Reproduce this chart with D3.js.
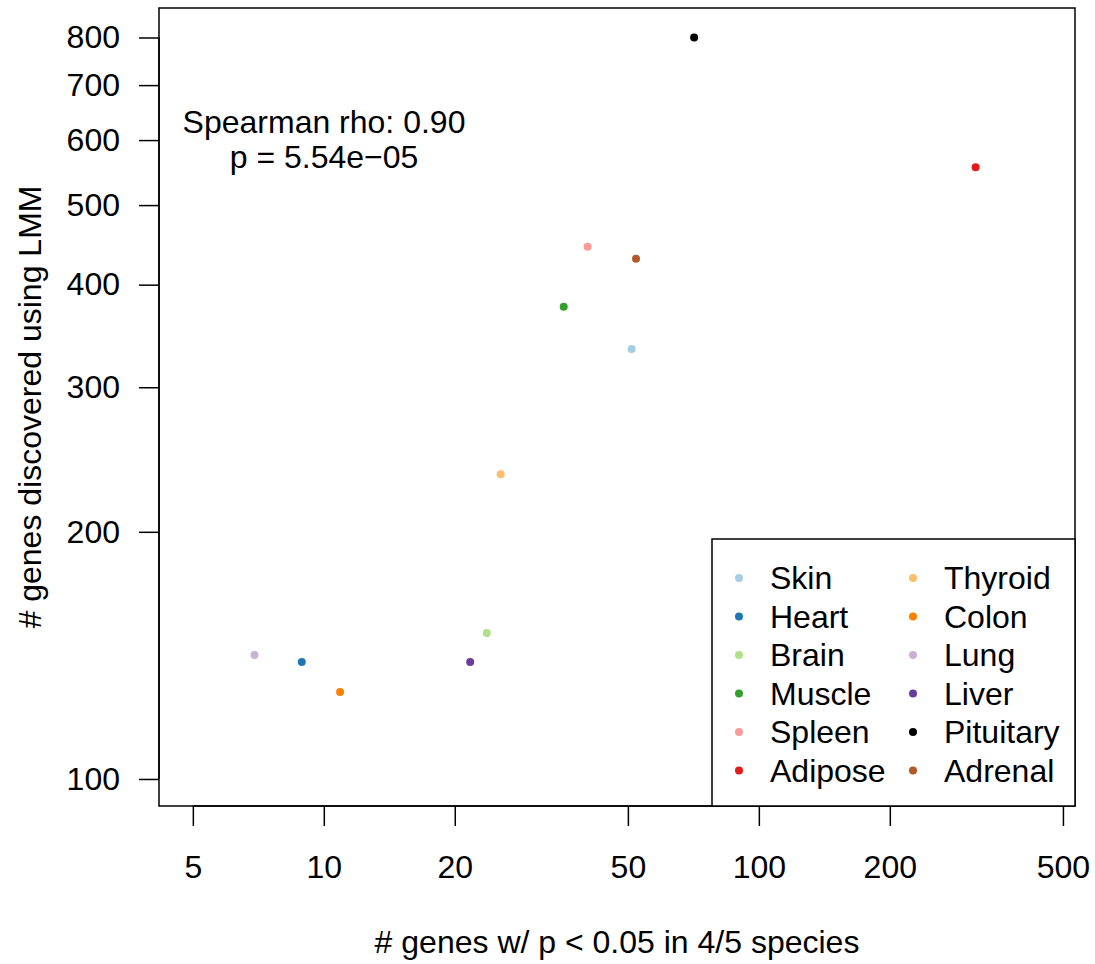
<!DOCTYPE html>
<html><head><meta charset="utf-8">
<script src="https://cdn.jsdelivr.net/npm/d3@7"></script>
<style>body{margin:0;background:#fff}text{font-family:"Liberation Sans",Arial,sans-serif}</style>
</head><body>
<svg id="c" width="1095" height="964"></svg>
<script>
const tissues = ["Skin","Heart","Brain","Muscle","Spleen","Adipose","Thyroid","Colon","Lung","Liver","Pituitary","Adrenal"];
const colors = ["#A6CEE3","#1F78B4","#B2DF8A","#33A02C","#FB9A99","#E31A1C","#FDBF6F","#FF7F00","#CAB2D6","#6A3D9A","#000000","#B15928"];
const xValues = [51, 8.9, 23.7, 35.6, 40.4, 315, 25.5, 10.9, 6.93, 21.7, 71, 52.2];
const yValues = [334, 138.8, 150.6, 376, 445, 556, 235, 127.6, 141.6, 138.8, 800, 430];
const xTicks = [5,10,20,50,100,200,500];
const yTicks = [100,200,300,400,500,600,700,800];

const FS = 32;
const svg = d3.select("#c");
const L=159, R=1075, T=8, B=806;
const x = d3.scaleLog().domain([4.18, 533]).range([L,R]);
const y = d3.scaleLog().domain([92.7, 869]).range([B,T]);

// frame
svg.append("rect").attr("x",L).attr("y",T).attr("width",R-L).attr("height",B-T)
  .attr("fill","none").attr("stroke","#000").attr("stroke-width",1.5);

// x axis
const xa = svg.append("g").attr("transform",`translate(0,${B})`)
  .call(d3.axisBottom(x).tickValues(xTicks).tickFormat(d3.format("d")).tickSize(20).tickPadding(29).tickSizeOuter(0));
xa.attr("font-size",null).attr("font-family",null);
xa.select(".domain").attr("d",`M${x(5)},0H${x(500)}`).attr("stroke-width",1.5);
xa.selectAll(".tick line").attr("stroke-width",1.5);
xa.selectAll("text").attr("font-size",FS).attr("fill","#000");

// y axis
const ya = svg.append("g").attr("transform",`translate(${L},0)`)
  .call(d3.axisLeft(y).tickValues(yTicks).tickFormat(d3.format("d")).tickSize(20).tickPadding(19).tickSizeOuter(0));
ya.attr("font-size",null).attr("font-family",null);
ya.select(".domain").attr("d",`M0,${y(100)}V${y(800)}`).attr("stroke-width",1.5);
ya.selectAll(".tick line").attr("stroke-width",1.5);
ya.selectAll("text").attr("font-size",FS).attr("fill","#000");

// labels
svg.append("text").attr("x",(L+R)/2).attr("y",953).attr("text-anchor","middle")
  .attr("font-size",FS).text("# genes w/ p < 0.05 in 4/5 species");
svg.append("text").attr("transform",`translate(41,${(T+B)/2}) rotate(-90)`).attr("text-anchor","middle")
  .attr("font-size",FS).text("# genes discovered using LMM");

// annotation
svg.append("text").attr("x",324).attr("y",133).attr("text-anchor","middle").attr("font-size",FS).text("Spearman rho: 0.90");
svg.append("text").attr("x",324).attr("y",168).attr("text-anchor","middle").attr("font-size",FS).text("p = 5.54e\u221205");

// points
svg.append("g").selectAll("circle").data(tissues).join("circle")
  .attr("cx",(d,i)=>x(xValues[i])).attr("cy",(d,i)=>y(yValues[i])).attr("r",4)
  .attr("fill",(d,i)=>colors[i]);

// legend
const lg = svg.append("g");
lg.append("rect").attr("x",712).attr("y",539).attr("width",R-712).attr("height",B-539)
  .attr("fill","#fff").attr("stroke","#000").attr("stroke-width",1.5);
tissues.forEach((t,i)=>{
  const col = Math.floor(i/6), row = i%6;
  const mx = col===0?739:913, ty = 578 + row*38.5;
  lg.append("circle").attr("cx",mx).attr("cy",ty).attr("r",4).attr("fill",colors[i]);
  lg.append("text").attr("x",mx+31).attr("y",ty+11).attr("font-size",FS).text(t);
});
</script>
</body></html>
